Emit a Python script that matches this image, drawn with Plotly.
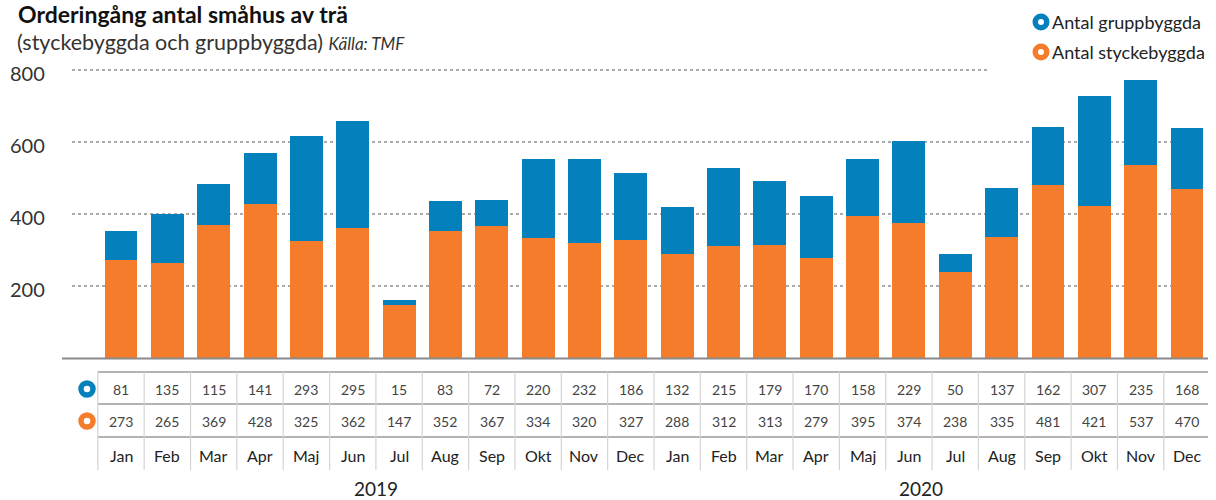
import plotly.graph_objects as go

months = ["Jan", "Feb", "Mar", "Apr", "Maj", "Jun", "Jul", "Aug", "Sep", "Okt", "Nov", "Dec"] * 2
years = ["2019", "2020"]
grupp = [81, 135, 115, 141, 293, 295, 15, 83, 72, 220, 232, 186,
         132, 215, 179, 170, 158, 229, 50, 137, 162, 307, 235, 168]
stycke = [273, 265, 369, 428, 325, 362, 147, 352, 367, 334, 320, 327,
          288, 312, 313, 279, 395, 374, 238, 335, 481, 421, 537, 470]
yticks = [200, 400, 600, 800]

BLUE = "#0480BC"
ORANGE = "#F47C2B"
FONT = "Lato"
W, H = 1216, 500

x = list(range(len(months)))


def px(xs):
    return xs / W


def py(ys):
    return 1 - ys / H


x_left_px, x_right_px = 62, 1208
c0, c23 = 121, 1187
unit = (c23 - c0) / 23
xr = [(x_left_px - c0) / unit, (x_right_px - c0) / unit]

y0_px, ytop_px = 358, 40
ppu = (358 - 70) / 800
yr = [0, (y0_px - ytop_px) / ppu]

fig = go.Figure()
fig.add_trace(go.Bar(x=x, y=stycke, marker=dict(color=ORANGE, line=dict(width=0)),
                     width=0.71, name="Antal styckebyggda", showlegend=False))
fig.add_trace(go.Bar(x=x, y=grupp, marker=dict(color=BLUE, line=dict(width=0)),
                     width=0.71, name="Antal gruppbyggda", showlegend=False))

shapes = []
annotations = []


def txt(xv, yv, s, size, color, xref="paper", yref="paper", xanchor="center", yanchor="middle", yshift=0):
    return dict(xref=xref, yref=yref, x=xv, y=yv, text=s, showarrow=False,
                xanchor=xanchor, yanchor=yanchor, yshift=yshift,
                font=dict(family=FONT, size=size, color=color))


# gridlines + y tick labels
for t in yticks:
    xend = 988 if t == 800 else 1205
    shapes.append(dict(type="line", xref="paper", yref="y", x0=px(72), x1=px(xend), y0=t, y1=t,
                       line=dict(color="#555", width=1, dash="dot"), layer="below"))
    annotations.append(txt(px(47), t, str(t), 20, "#333", yref="y", xanchor="right", yshift=-3))

# baseline
shapes.append(dict(type="line", xref="paper", yref="paper", x0=px(62), x1=px(1208),
                   y0=py(358.5), y1=py(358.5), line=dict(color="#8a8a8a", width=2)))

# table lines
tbl_left = -0.5
tbl_right = len(months) - 0.5
for ypix in [372, 404, 437]:
    shapes.append(dict(type="line", xref="x", yref="paper", x0=tbl_left, x1=tbl_right,
                       y0=py(ypix), y1=py(ypix), line=dict(color="#9a9a9a", width=1.5)))
for i in range(len(months) + 1):
    shapes.append(dict(type="line", xref="x", yref="paper", x0=i - 0.5, x1=i - 0.5,
                       y0=py(372), y1=py(470), line=dict(color="#d4d4d4", width=1.2)))

for i in x:
    annotations.append(txt(i, py(389), str(grupp[i]), 14, "#444", xref="x"))
    annotations.append(txt(i, py(421), str(stycke[i]), 14, "#444", xref="x"))
    annotations.append(txt(i, py(455), months[i], 16, "#222", xref="x"))

# year labels
for yi, yl in enumerate(years):
    annotations.append(txt(5.5 + yi * 11.75, py(488.5), yl, 19, "#222", xref="x"))


def ring(xc, yc, color, d=12, lw=5.5):
    return dict(type="circle", xref="paper", yref="paper", xsizemode="pixel", ysizemode="pixel",
                xanchor=px(xc), yanchor=py(yc), x0=-d / 2, x1=d / 2, y0=-d / 2, y1=d / 2,
                line=dict(color=color, width=lw), fillcolor="white")


shapes.append(ring(87, 389, BLUE))
shapes.append(ring(87, 421, ORANGE))
shapes.append(ring(1041, 22, BLUE, d=11.5))
shapes.append(ring(1041, 52, ORANGE, d=11.5))

annotations.append(txt(px(1050), py(22), "Antal gruppbyggda", 18, "#222", xanchor="left"))
annotations.append(txt(px(1050), py(52), "Antal styckebyggda", 18, "#222", xanchor="left"))

# title
annotations.append(txt(px(16), py(13.5), "<b>Orderingång antal småhus av trä</b>", 23, "#111", xanchor="left"))
annotations.append(txt(px(15), py(42),
                       "(styckebyggda och gruppbyggda) <i><span style='font-size:17px'>Källa: TMF</span></i>",
                       21.5, "#333", xanchor="left"))

fig.update_layout(
    width=W, height=H,
    margin=dict(l=0, r=0, t=0, b=0),
    paper_bgcolor="white", plot_bgcolor="white",
    barmode="stack",
    bargap=0,
    xaxis=dict(domain=[px(x_left_px), px(x_right_px)], range=xr, showgrid=False, zeroline=False,
               showticklabels=False, ticks="", showline=False),
    yaxis=dict(domain=[py(y0_px), py(ytop_px)], range=yr, showgrid=False, zeroline=False,
               showticklabels=False, ticks="", showline=False),
    shapes=shapes,
    annotations=annotations,
    showlegend=False,
)

fig.write_html("out.html", config={"displayModeBar": False},
               post_script="document.body.style.margin='0';document.body.style.overflow='hidden';")
